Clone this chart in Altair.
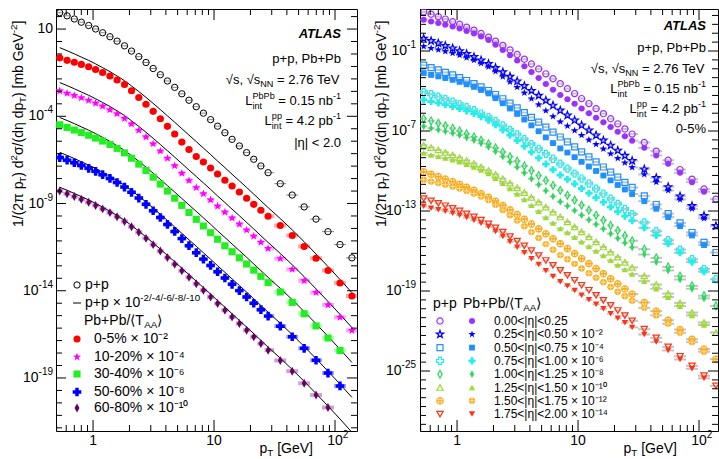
import math
import altair as alt
import numpy as np
import pandas as pd

FONT = "Liberation Sans"

# ---------------- data ----------------
pt_gev = [0.53, 0.61, 0.70, 0.80, 0.92, 1.05, 1.20, 1.38, 1.58, 1.82, 2.08, 2.39,
          2.74, 3.14, 3.60, 4.12, 4.73, 5.42, 6.21, 7.13, 8.17, 9.37, 10.7, 12.3,
          14.1, 16.2, 18.6, 21.3, 24.4, 28.0, 35.3, 44.3, 55.6, 69.7, 87.5, 110.0, 138.0]
# p+p invariant cross section, log10 [mb GeV^-2]
pp_log10 = [1.934, 1.759, 1.579, 1.394, 1.204, 1.004, 0.789, 0.559, 0.309, 0.039,
            -0.261, -0.581, -0.916, -1.261, -1.616, -1.976, -2.341, -2.711, -3.081,
            -3.451, -3.821, -4.193, -4.567, -4.943, -5.321, -5.701, -6.081, -6.463,
            -6.847, -7.233, -7.863, -8.513, -9.193, -9.893, -10.613, -11.353, -12.113]
# Pb+Pb/<TAA> divided by p+p, per centrality
raa_00_05 = [0.26, 0.28, 0.33, 0.38, 0.43, 0.48, 0.52, 0.56, 0.59, 0.60, 0.53, 0.46,
             0.40, 0.35, 0.30, 0.25, 0.21, 0.17, 0.15, 0.14, 0.16, 0.17, 0.18, 0.19,
             0.21, 0.23, 0.24, 0.26, 0.29, 0.32, 0.40, 0.48, 0.54, 0.57, 0.60, 0.63, 0.65]
raa_10_20 = [0.33, 0.36, 0.41, 0.46, 0.51, 0.56, 0.61, 0.65, 0.68, 0.69, 0.66, 0.60,
             0.54, 0.48, 0.42, 0.37, 0.32, 0.28, 0.25, 0.23, 0.24, 0.25, 0.26, 0.28,
             0.31, 0.33, 0.36, 0.39, 0.42, 0.45, 0.51, 0.55, 0.59, 0.61, 0.63, 0.68, 0.69]
raa_30_40 = [0.38, 0.40, 0.43, 0.47, 0.51, 0.56, 0.62, 0.67, 0.71, 0.73, 0.72, 0.69,
             0.64, 0.59, 0.54, 0.49, 0.44, 0.40, 0.37, 0.35, 0.34, 0.33, 0.33, 0.33,
             0.36, 0.39, 0.41, 0.44, 0.47, 0.50, 0.62, 0.70, 0.75, 0.76, 0.80, 0.84]
raa_50_60 = [0.50, 0.53, 0.57, 0.61, 0.65, 0.69, 0.73, 0.76, 0.79, 0.80, 0.80, 0.78,
             0.74, 0.70, 0.65, 0.60, 0.55, 0.50, 0.46, 0.43, 0.43, 0.44, 0.45, 0.47,
             0.49, 0.51, 0.53, 0.56, 0.58, 0.60, 0.68, 0.75, 0.78, 0.81, 0.78, 0.79]
raa_60_80 = [0.60, 0.63, 0.66, 0.70, 0.73, 0.77, 0.80, 0.83, 0.85, 0.86, 0.86, 0.85,
             0.83, 0.80, 0.78, 0.75, 0.73, 0.72, 0.71, 0.71, 0.70, 0.69, 0.68, 0.67,
             0.66, 0.66, 0.66, 0.66, 0.66, 0.67, 0.74, 0.80, 0.78, 0.82, 0.83]
cent_labels = ["0-5%", "10-20%", "30-40%", "50-60%", "60-80%"]
cent_exp = [-2, -4, -6, -8, -10]
eta_labels = ["0.00<|η|<0.25", "0.25<|η|<0.50", "0.50<|η|<0.75", "0.75<|η|<1.00",
              "1.00<|η|<1.25", "1.25<|η|<1.50", "1.50<|η|<1.75", "1.75<|η|<2.00"]
eta_exp = [0, -2, -4, -6, -8, -10, -12, -14]
n_pbpb_eta = 36
x_label_decades = [0, 1, 2]
y_label_exp_left = [1, -4, -9, -14, -19]
y_label_exp_right = [-1, -7, -13, -19, -25]

# ---------------- marker shapes (unit box [-1,1]) ----------------
DIAMOND = "M0,-1L0.55,0L0,1L-0.55,0Z"
PLUS = "M-1,0L1,0M0,-1L0,1"
STAR = ("M0,-1L0.235,-0.324L0.951,-0.309L0.38,0.124L0.588,0.809L0,0.4"
        "L-0.588,0.809L-0.38,0.124L-0.951,-0.309L-0.235,-0.324Z")
RING = "M" + "L".join(f"{math.cos(a * math.pi / 12):.3f},{math.sin(a * math.pi / 12):.3f}"
                      for a in range(24)) + "Z"
OPLUS = RING + "M-1,0L1,0M0,-1L0,1"

cent_colors = ["#ff0000", "#ff00ff", "#22ee22", "#0000ff", "#660066"]
cent_shapes = ["circle", STAR, "square", "cross", DIAMOND]
cent_sizes = [50, 75, 50, 75, 80]
eta_colors = ["#9b30ff", "#0000ff", "#1e90ff", "#22eeee", "#22dd55", "#99e022", "#ffaa11", "#ff3311"]
open_shapes = ["circle", STAR, "square", "cross", DIAMOND, "triangle-up", OPLUS, "triangle-down"]
fill_shapes = ["circle", STAR, "square", "cross", DIAMOND, "triangle-up", "circle", "triangle-down"]
open_sizes = [38, 60, 36, 50, 60, 40, 40, 40]
fill_sizes = [36, 60, 34, 50, 60, 40, 40, 40]
OPLUS_INDEX = 6

SUP = str.maketrans("-0123456789", "⁻⁰¹²³⁴⁵⁶⁷⁸⁹")

# ---------------- tables ----------------
pt = np.array(pt_gev)
edges = np.sqrt(pt[1:] * pt[:-1])
pt_lo = np.r_[pt[0] ** 2 / edges[0], edges]
pt_hi = np.r_[edges, pt[-1] ** 2 / edges[-1]]
pp = 10.0 ** np.array(pp_log10)

pp_df = pd.DataFrame({"pt": pt, "y": pp, "lo": pt_lo, "hi": pt_hi})
line_df = pd.DataFrame([{"pt": float(p), "y": float(v * 10.0 ** e), "grp": str(e)}
                        for e in cent_exp for p, v in zip(pt, pp)])
aa_tables = []
for e, raa in zip(cent_exp, [raa_00_05, raa_10_20, raa_30_40, raa_50_60, raa_60_80]):
    n = len(raa)
    aa_tables.append(pd.DataFrame({"pt": pt[:n], "y": pp[:n] * np.array(raa) * 10.0 ** e,
                                   "lo": pt_lo[:n], "hi": pt_hi[:n]}))
open_tables, fill_tables = [], []
for e in eta_exp:
    open_tables.append(pd.DataFrame({"pt": pt, "y": pp * 10.0 ** e, "lo": pt_lo, "hi": pt_hi}))
    n = n_pbpb_eta
    fill_tables.append(pd.DataFrame({"pt": pt[:n], "y": pp[:n] * np.array(raa_00_05[:n]) * 10.0 ** e,
                                     "lo": pt_lo[:n], "hi": pt_hi[:n]}))

# ---------------- text helpers ----------------
W_EM = {' ': .278, '%': .889, '(': .333, ')': .333, '+': .584, ',': .278, '-': .333, '.': .278,
        '/': .278, '<': .584, '=': .584, '>': .584, 'A': .667, 'G': .778, 'L': .556, 'N': .722,
        'P': .667, 'T': .611, 'V': .667, 'b': .556, 'd': .556, 'e': .556, 'i': .222, 'm': .833,
        'n': .556, 'p': .556, 's': .5, 't': .278, '|': .26, '×': .584, 'η': .556, 'σ': .6,
        'π': .6, '√': .549, '⟨': .39, '⟩': .39, '[': .278, ']': .278}


def tw(s, fs):
    return sum(W_EM.get(c, .556) for c in s) * fs


def text_layer(s, x, y, fs, align="left", angle=0, weight="normal", style="normal", color="black"):
    # SVG drops leading/trailing blanks: move the anchor instead
    if align == "left" and angle == 0:
        st = s.lstrip(" ")
        x += (len(s) - len(st)) * W_EM[' '] * fs
        s = st
    elif align == "right":
        st = s.rstrip(" ")
        x -= (len(s) - len(st)) * W_EM[' '] * fs
        s = st
    return alt.Chart(pd.DataFrame({"t": [s]})).mark_text(
        align=align, baseline="middle", font=FONT, fontSize=fs, fontWeight=weight,
        fontStyle=style, color=color, angle=angle
    ).encode(text="t:N", x=alt.value(float(x)), y=alt.value(float(y)))


def piece_width(p, fs, sm):
    if p[0] == "n":
        return tw(p[1], fs)
    if p[0] in ("sup", "sub"):
        return tw(p[1], sm)
    return max(tw(p[1], sm), tw(p[2], sm))


def hrun(pieces, x, y, fs, anchor="left"):
    sm = round(fs * 0.7, 1)
    ws = [piece_width(p, fs, sm) for p in pieces]
    pos = x if anchor == "left" else x - sum(ws)
    out = []
    for p, w in zip(pieces, ws):
        if p[0] == "n":
            out.append(text_layer(p[1], pos, y, fs))
        elif p[0] == "sup":
            out.append(text_layer(p[1], pos, y - fs * 0.38, sm))
        elif p[0] == "sub":
            out.append(text_layer(p[1], pos, y + fs * 0.32, sm))
        else:
            out.append(text_layer(p[1], pos, y - fs * 0.42, sm))
            out.append(text_layer(p[2], pos, y + fs * 0.4, sm))
        pos += w
    return out


def vrun(pieces, x, y, fs):
    sm = round(fs * 0.7, 1)
    pos = y
    out = []
    for p in pieces:
        w = piece_width(p, fs, sm)
        if p[0] == "n":
            out.append(text_layer(p[1], x, pos, fs, angle=270))
        elif p[0] == "sup":
            out.append(text_layer(p[1], x - fs * 0.38, pos, sm, angle=270))
        else:
            out.append(text_layer(p[1], x + fs * 0.32, pos, sm, angle=270))
        pos -= w
    return out


def marker(x, y, shape, color, size, filled, sw=1.2):
    return alt.Chart(pd.DataFrame({"a": [0]})).mark_point(
        shape=shape, color=color, size=size, filled=filled, opacity=1, strokeWidth=sw
    ).encode(x=alt.value(float(x)), y=alt.value(float(y)))


def tick_layers(xs, ys, W, H, xmaj, xmin, ymaj, ymin):
    out = []
    for vals, L in ((xmaj, 11), (xmin, 6)):
        base = alt.Chart(pd.DataFrame({"v": vals})).mark_rule(color="black", strokeWidth=1)
        xe = alt.X("v:Q", scale=xs, axis=None)
        out.append(base.encode(x=xe, y=alt.value(H), y2=alt.value(H - L)))
        out.append(base.encode(x=xe, y=alt.value(0), y2=alt.value(L)))
    for vals, L in ((ymaj, 10), (ymin, 6)):
        base = alt.Chart(pd.DataFrame({"v": vals})).mark_rule(color="black", strokeWidth=1)
        ye = alt.Y("v:Q", scale=ys, axis=None)
        out.append(base.encode(y=ye, x=alt.value(0), x2=alt.value(L)))
        out.append(base.encode(y=ye, x=alt.value(W), x2=alt.value(W - L)))
    return out


def y_label_layers(exps, ys, xoff):
    out = []
    for e in exps:
        df = pd.DataFrame({"v": [10.0 ** e]})
        main = "1" if e == 0 else "10"
        sup = "" if e in (0, 1) else str(e)
        ws = tw(sup, 10)
        out.append(alt.Chart(df).mark_text(align="right", baseline="middle", font=FONT, fontSize=14,
                                           color="black", text=main).encode(
            y=alt.Y("v:Q", scale=ys, axis=None), x=alt.value(float(xoff - ws))))
        if sup:
            out.append(alt.Chart(df).mark_text(align="left", baseline="middle", font=FONT, fontSize=10,
                                               color="black", text=sup, dy=-6).encode(
                y=alt.Y("v:Q", scale=ys, axis=None), x=alt.value(float(xoff - ws))))
    return out


def x_label_layers(decs, xs, H):
    out = []
    for d in decs:
        df = pd.DataFrame({"v": [10.0 ** d]})
        main = "1" if d == 0 else "10"
        out.append(alt.Chart(df).mark_text(align="center", baseline="middle", font=FONT, fontSize=14,
                                           color="black", text=main).encode(
            x=alt.X("v:Q", scale=xs, axis=None), y=alt.value(H + 10)))
        if d > 1:
            out.append(alt.Chart(df).mark_text(align="left", baseline="middle", font=FONT, fontSize=10,
                                               color="black", text=str(d), dx=tw(main, 14) / 2).encode(
                x=alt.X("v:Q", scale=xs, axis=None), y=alt.value(H + 4)))
    return out


x_minor = [m * 10.0 ** d for d in (-1, 0, 1) for m in range(2, 10) if m * 10.0 ** d >= 0.5]
x_major = [10.0 ** d for d in x_label_decades]


def enc_pts(tbl, xs, ys, mark):
    return alt.Chart(tbl).mark_point(**mark).encode(
        x=alt.X("pt:Q", scale=xs, axis=None),
        y=alt.Y("y:Q", scale=ys, axis=None))


def enc_bars(tbl, xs, ys, **mark):
    return alt.Chart(tbl).mark_rule(clip=True, **mark).encode(
        x=alt.X("lo:Q", scale=xs, axis=None), x2=alt.X2("hi"),
        y=alt.Y("y:Q", scale=ys, axis=None))


title_y = [("n", "1/(2π p"), ("sub", "T"), ("n", ") d"), ("sup", "2"), ("n", "σ/(dη dp"),
           ("sub", "T"), ("n", ") [mb GeV"), ("sup", "-2"), ("n", "]")]
title_x = [("n", "p"), ("sub", "T"), ("n", " [GeV]")]

# ================= left panel =================
WL, HL = 301, 422
XL = alt.Scale(type="log", domain=[0.494, 152], nice=False)
YL = alt.Scale(type="log", domain=[10 ** -22.04, 10 ** 2.15], nice=False)

L = []
L.append(alt.Chart(pd.DataFrame({"a": [0]})).mark_rule(color="white", strokeWidth=1).encode(
    x=alt.value(-54.5), x2=alt.value(-54.5), y=alt.value(-7.5), y2=alt.value(0)))
L.append(enc_bars(pp_df, XL, YL, color="#888888", strokeWidth=1))
for i, tbl in enumerate(aa_tables):
    L.append(enc_bars(tbl, XL, YL, color=cent_colors[i], strokeWidth=4, opacity=0.35))
L.append(alt.Chart(line_df).mark_line(color="black", strokeWidth=1, clip=True, interpolate="monotone").encode(
    x=alt.X("pt:Q", scale=XL, axis=None),
    y=alt.Y("y:Q", scale=YL, axis=None), detail="grp:N"))
L.append(enc_pts(pp_df, XL, YL,
                 dict(shape="circle", filled=False, color="black", size=40, strokeWidth=1, opacity=1, clip=True)))
for i, tbl in enumerate(aa_tables):
    L.append(enc_pts(tbl, XL, YL, dict(shape=cent_shapes[i], filled=True, color=cent_colors[i],
                                        size=cent_sizes[i], opacity=1, clip=True)))
yl_major = [10.0 ** e for e in y_label_exp_left]
yl_minor = [10.0 ** (1 - j * 5 / 7) for j in range(-1, 33) if j % 7 != 0]
L += tick_layers(XL, YL, WL, HL, x_major, x_minor, yl_major, yl_minor)
L += y_label_layers(y_label_exp_left, YL, -3)
L += x_label_layers(x_label_decades, XL, HL)
L.append(text_layer("ATLAS", 285, 25, 13, align="right", weight="bold", style="italic"))
L.append(text_layer("p+p, Pb+Pb", 285, 50, 13, align="right"))
L += hrun([("n", "√s, √s"), ("sub", "NN"), ("n", " = 2.76 TeV")], 285, 71, 13, anchor="right")
L += hrun([("n", "L"), ("ss", "PbPb", "int"), ("n", " = 0.15 nb"), ("sup", "-1")], 285, 92, 13, anchor="right")
L += hrun([("n", "L"), ("ss", "pp", "int"), ("n", " = 4.2 pb"), ("sup", "-1")], 285, 112, 13, anchor="right")
L.append(text_layer("|η| < 2.0", 285, 134, 13, align="right"))
L += vrun(title_y, -37, 218, 14)
L += hrun(title_x, 257, 440, 14, anchor="right")
L.append(marker(21, 276, "circle", "black", 40, False, 1))
L.append(text_layer("p+p", 29, 276, 14))
L.append(alt.Chart(pd.DataFrame({"a": [0]})).mark_rule(color="black", strokeWidth=1).encode(
    x=alt.value(17), x2=alt.value(25), y=alt.value(294)))
L += hrun([("n", "p+p × 10"), ("sup", "-2/-4/-6/-8/-10")], 29, 294, 14)
L += hrun([("n", "Pb+Pb/⟨T"), ("sub", "AA"), ("n", "⟩")], 28, 312, 14)
for i, (lab, e) in enumerate(zip(cent_labels, cent_exp)):
    yy = [330, 348, 365, 383, 399][i]
    L.append(marker(21, yy, cent_shapes[i], cent_colors[i], cent_sizes[i], True))
    L.append(text_layer(f"{lab} × 10{str(e).translate(SUP)}", 38, yy, 14))

left = alt.layer(*L).properties(width=WL, height=HL)

# ================= right panel =================
WR, HR = 298, 422
XR = alt.Scale(type="log", domain=[0.494, 143.5], nice=False)
YR = alt.Scale(type="log", domain=[10 ** -29.5, 10 ** 2.15], nice=False)

R = []
for tbl in open_tables + fill_tables:
    R.append(enc_bars(tbl, XR, YR, color="#aaaaaa", strokeWidth=2, opacity=0.7))
for i, tbl in enumerate(open_tables):
    R.append(enc_pts(tbl, XR, YR, dict(shape=open_shapes[i], filled=False, color=eta_colors[i],
                                        size=open_sizes[i], strokeWidth=1.2, opacity=1, clip=True)))
for i, tbl in enumerate(fill_tables):
    R.append(enc_pts(tbl, XR, YR, dict(shape=fill_shapes[i], filled=True, color=eta_colors[i],
                                        size=fill_sizes[i], opacity=1, clip=True)))
    if i == OPLUS_INDEX:
        R.append(enc_pts(tbl, XR, YR, dict(shape=PLUS, filled=False, color="#ffe2a0", size=36,
                                           strokeWidth=1, opacity=1, clip=True)))
yr_major = [10.0 ** e for e in y_label_exp_right]
yr_minor = [10.0 ** (-1 - j * 2 / 3) for j in range(-4, 43) if j % 9 != 0]
R += tick_layers(XR, YR, WR, HR, x_major, x_minor, yr_major, yr_minor)
R += y_label_layers(y_label_exp_right, YR, -4)
R += x_label_layers(x_label_decades, XR, HR)
R.append(text_layer("ATLAS", 286, 17, 13, align="right", weight="bold", style="italic"))
R.append(text_layer("p+p, Pb+Pb", 286, 39, 13, align="right"))
R += hrun([("n", "√s, √s"), ("sub", "NN"), ("n", " = 2.76 TeV")], 286, 60, 13, anchor="right")
R += hrun([("n", "L"), ("ss", "PbPb", "int"), ("n", " = 0.15 nb"), ("sup", "-1")], 286, 80, 13, anchor="right")
R += hrun([("n", "L"), ("ss", "pp", "int"), ("n", " = 4.2 pb"), ("sup", "-1")], 286, 100, 13, anchor="right")
R.append(text_layer("0-5%", 286, 120, 13, align="right"))
R += vrun(title_y, -38, 218, 14)
R += hrun(title_x, 257, 440, 14, anchor="right")
R.append(text_layer("p+p", 13, 295, 14))
R += hrun([("n", "Pb+Pb/⟨T"), ("sub", "AA"), ("n", "⟩")], 43, 295, 14)
for i, (lab, e) in enumerate(zip(eta_labels, eta_exp)):
    yy = 312 + 13.3 * i
    R.append(marker(20, yy, open_shapes[i], eta_colors[i], open_sizes[i], False))
    R.append(marker(52, yy, fill_shapes[i], eta_colors[i], fill_sizes[i], True))
    if i == OPLUS_INDEX:
        R.append(marker(52, yy, PLUS, "#ffe2a0", 36, False, 1))
    txt = lab if e == 0 else f"{lab} × 10{str(e).translate(SUP)}"
    R.append(text_layer(txt, 74, yy, 12))

right = alt.layer(*R).properties(width=WR, height=HR)

chart = alt.hconcat(left, right, spacing=63, bounds="flush").properties(
    padding=0
).configure_view(stroke="black", strokeWidth=1)

chart.save("out.html", embed_options={"renderer": "svg", "actions": False})
